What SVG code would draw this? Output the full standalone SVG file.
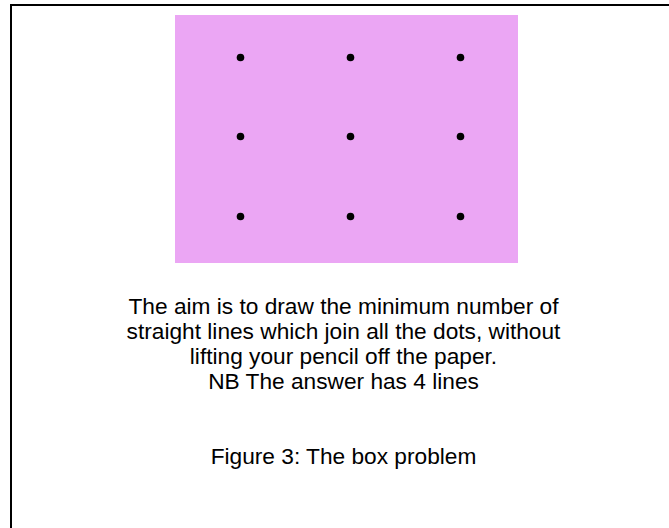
<svg xmlns="http://www.w3.org/2000/svg" width="669" height="528" viewBox="0 0 669 528">
<style>
.t{font-family:"Liberation Sans",Arial,sans-serif;font-size:22.7px;fill:#000;text-anchor:middle}
.dot{fill:#000}
</style>
<rect width="669" height="528" fill="#fff"/>
<rect x="11" y="5" width="700" height="600" fill="none" stroke="#000" stroke-width="2"/>
<g id="board">
<rect x="175" y="15" width="343" height="248" fill="#eba6f4"/>
<circle class="dot" cx="240.5" cy="57.5" r="3.8"/>
<circle class="dot" cx="350.5" cy="57.5" r="3.8"/>
<circle class="dot" cx="460.5" cy="57.5" r="3.8"/>
<circle class="dot" cx="240.5" cy="136.5" r="3.8"/>
<circle class="dot" cx="350.5" cy="136.5" r="3.8"/>
<circle class="dot" cx="460.5" cy="136.5" r="3.8"/>
<circle class="dot" cx="240.5" cy="216.5" r="3.8"/>
<circle class="dot" cx="350.5" cy="216.5" r="3.8"/>
<circle class="dot" cx="460.5" cy="216.5" r="3.8"/>
</g>
<g id="caption">
<text class="t" x="343.5" y="314">The aim is to draw the minimum number of</text>
<text class="t" x="343.5" y="339">straight lines which join all the dots, without</text>
<text class="t" x="343.5" y="364">lifting your pencil off the paper.</text>
<text class="t" x="343.5" y="389">NB The answer has 4 lines</text>
<text class="t" x="343.5" y="464">Figure 3: The box problem</text>
</g>
</svg>
